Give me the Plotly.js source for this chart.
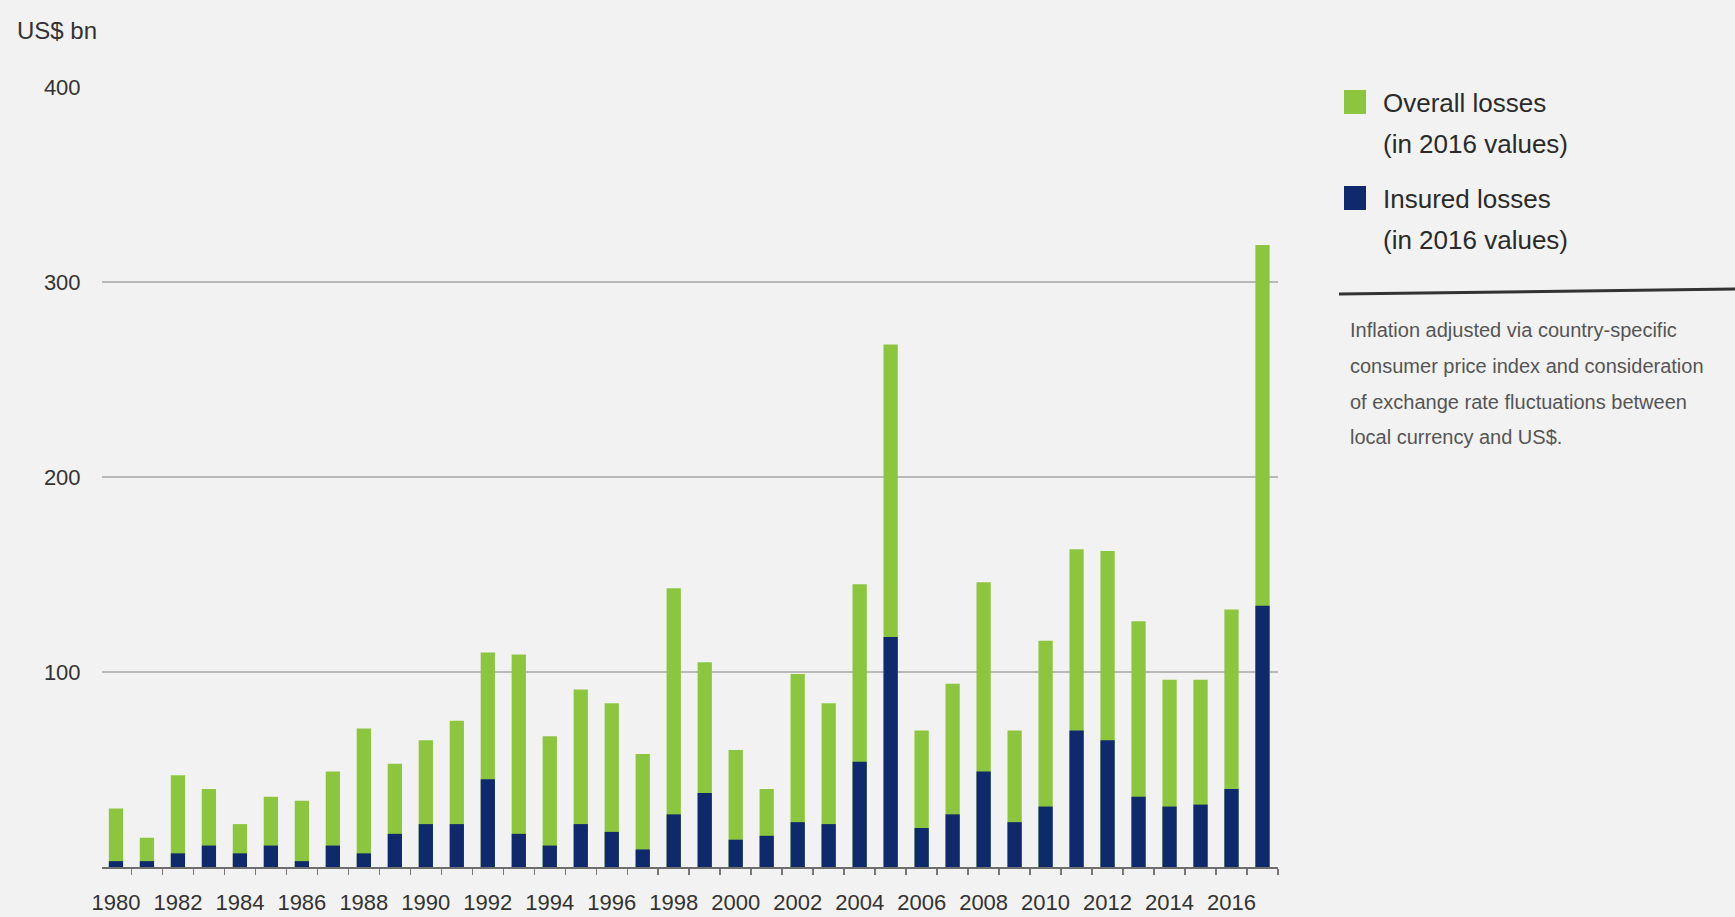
<!DOCTYPE html>
<html>
<head>
<meta charset="utf-8">
<script src="https://cdn.plot.ly/plotly-3.0.1.min.js"></script>
<style>
  html, body { margin: 0; padding: 0; background: #f2f2f2; }
  #chart { width: 1735px; height: 917px; }
</style>
</head>
<body>
<div id="chart"></div>
<script>
const years = [1980,1981,1982,1983,1984,1985,1986,1987,1988,1989,
               1990,1991,1992,1993,1994,1995,1996,1997,1998,1999,
               2000,2001,2002,2003,2004,2005,2006,2007,2008,2009,
               2010,2011,2012,2013,2014,2015,2016,2017];
const overallLosses = [30,15,47,40,22,36,34,49,71,53,
                       65,75,110,109,67,91,84,58,143,105,
                       60,40,99,84,145,268,70,94,146,70,
                       116,163,162,126,96,96,132,319];
const insuredLosses = [3,3,7,11,7,11,3,11,7,17,
                       22,22,45,17,11,22,18,9,27,38,
                       14,16,23,22,54,118,20,27,49,23,
                       31,70,65,36,31,32,40,134];
const tickYears = [1980,1982,1984,1986,1988,1990,1992,1994,1996,1998,
                   2000,2002,2004,2006,2008,2010,2012,2014,2016];
const yTicks = [100,200,300,400];
const seriesNames = ["Overall losses", "Insured losses"];
const seriesSubtitle = "(in 2016 values)";
const noteLines = ["Inflation adjusted via country-specific",
                   "consumer price index and consideration",
                   "of exchange rate fluctuations between",
                   "local currency and US$."];
const unitLabel = "US$ bn";

const W = 1735, H = 917;
const M = {l: 102, r: 457, t: 87, b: 50};
const pw = W - M.l - M.r, ph = H - M.t - M.b;
const px = x => (x - M.l) / pw;
const py = y => (H - M.b - y) / ph;

const FONT = "'Liberation Sans', Arial, sans-serif";
const GREEN = "#8cc63f", NAVY = "#0e2a6c", TEXT = "#333333";
const colors = [GREEN, NAVY];

const traces = [
  {type: "bar", x: years, y: overallLosses, name: seriesNames[0],
   marker: {color: GREEN}, showlegend: false},
  {type: "bar", x: years, y: insuredLosses, name: seriesNames[1],
   marker: {color: NAVY}, showlegend: false}
];

// manual legend (swatches + two-line labels)
const legendTop = [90, 186];   // swatch tops in px
const shapes = [
  {type: "line", xref: "paper", yref: "paper",
   x0: px(1339), y0: py(294), x1: px(1735), y1: py(289),
   line: {color: "#333", width: 3}}
];
const annotations = [
  {text: unitLabel, xref: "paper", yref: "paper",
   x: px(15), y: py(30), xanchor: "left", yanchor: "middle",
   showarrow: false, font: {family: FONT, size: 24, color: TEXT}}
];
seriesNames.forEach((nm, i) => {
  const t = legendTop[i];
  shapes.push({type: "rect", xref: "paper", yref: "paper",
    x0: px(1344), x1: px(1366), y0: py(t), y1: py(t + 24),
    fillcolor: colors[i], line: {width: 0}});
  annotations.push({text: nm, xref: "paper", yref: "paper",
    x: px(1381), y: py(t + 13), xanchor: "left", yanchor: "middle",
    showarrow: false, font: {family: FONT, size: 26, color: "#2a2a2a"}});
  annotations.push({text: seriesSubtitle, xref: "paper", yref: "paper",
    x: px(1381), y: py(t + 54), xanchor: "left", yanchor: "middle",
    showarrow: false, font: {family: FONT, size: 26, color: "#2a2a2a"}});
});
noteLines.forEach((ln, i) => {
  annotations.push({text: ln, xref: "paper", yref: "paper",
    x: px(1348), y: py(330 + i * 35.8), xanchor: "left", yanchor: "middle",
    showarrow: false, font: {family: FONT, size: 20, color: "#555"}});
});

const layout = {
  width: W, height: H,
  margin: M,
  paper_bgcolor: "#f2f2f2", plot_bgcolor: "#f2f2f2",
  barmode: "overlay", bargap: 0.54,
  font: {family: FONT, color: TEXT},
  showlegend: false,
  xaxis: {
    range: [1979.55, 2017.5],
    tickmode: "array", tickvals: tickYears, ticktext: tickYears.map(String),
    ticks: "outside", ticklen: 15, tickcolor: "rgba(0,0,0,0)",
    minor: {tick0: 1979.5, dtick: 1, ticks: "outside", ticklen: 6, tickcolor: "#777", tickwidth: 1.5},
    tickfont: {family: FONT, size: 22, color: TEXT},
    showline: true, linecolor: "#6e6e6e", linewidth: 2,
    showgrid: false, zeroline: false, fixedrange: true
  },
  yaxis: {
    range: [0, 400],
    tickmode: "array", tickvals: yTicks,
    ticks: "outside", ticklen: 16, tickcolor: "rgba(0,0,0,0)",
    tickfont: {family: FONT, size: 22, color: TEXT},
    showgrid: true, gridcolor: "#b8b8b8", gridwidth: 2,
    zeroline: false, showline: false, fixedrange: true
  },
  shapes: shapes,
  annotations: annotations
};

Plotly.newPlot("chart", traces, layout, {displayModeBar: false, staticPlot: true});
</script>
</body>
</html>
